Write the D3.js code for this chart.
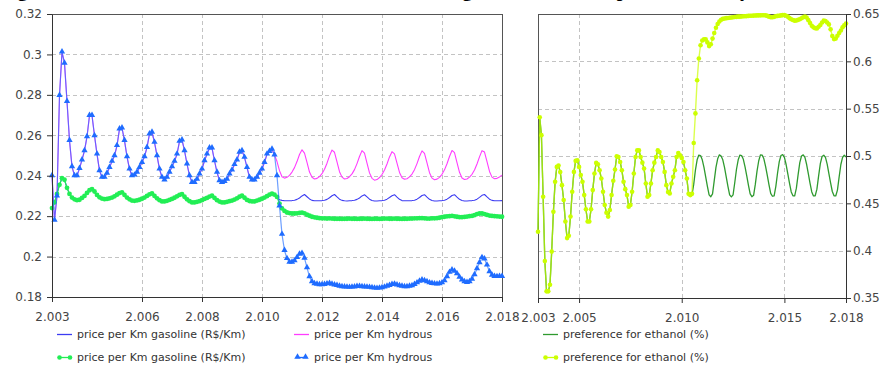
<!DOCTYPE html>
<html><head><meta charset="utf-8">
<script src="https://cdn.jsdelivr.net/npm/d3@7"></script>
<style>
html,body{margin:0;padding:0;background:#fff;}
svg{display:block;}
</style></head><body>
<svg id="chart" width="888" height="367"></svg>
<script>
// ---------- data ----------
const startYear = 2003;
const stepsPerYear = 12;   // monthly values, 2003.0 .. 2018.0
const titleText = "Figure 5 – Results of the simulated model: ethanol and gasoline and their price offered by the market";

const leftXTicks  = [2003, 2006, 2008, 2010, 2012, 2014, 2016, 2018];
const leftXLabels = ["2.003", "2.006", "2.008", "2.010", "2.012", "2.014", "2.016", "2.018"];
const leftYTicks  = [0.18, 0.20, 0.22, 0.24, 0.26, 0.28, 0.30, 0.32];
const leftYLabels = ["0.18", "0.2", "0.22", "0.24", "0.26", "0.28", "0.3", "0.32"];
const rightXTicks  = [2003, 2005, 2010, 2015, 2018];
const rightXLabels = ["2.003", "2.005", "2.010", "2.015", "2.018"];
const rightYTicks  = [0.35, 0.40, 0.45, 0.50, 0.55, 0.60, 0.65];
const rightYLabels = ["0.35", "0.4", "0.45", "0.5", "0.55", "0.6", "0.65"];

// price per Km hydrous (triangles), monthly 2003..2018
const hydrousData = [
0.2400,0.2180,0.2300,0.2797,0.3012,0.2957,0.2767,0.2574,0.2445,0.2400,0.2400,0.2436,
0.2478,0.2524,0.2593,0.2698,0.2698,0.2598,0.2507,0.2425,0.2392,0.2392,0.2412,0.2441,
0.2471,0.2499,0.2549,0.2631,0.2636,0.2574,0.2494,0.2433,0.2400,0.2403,0.2417,0.2441,
0.2466,0.2494,0.2540,0.2607,0.2615,0.2565,0.2499,0.2433,0.2392,0.2379,0.2392,0.2417,
0.2445,0.2471,0.2507,0.2570,0.2577,0.2524,0.2458,0.2400,0.2367,0.2367,0.2383,0.2408,
0.2433,0.2474,0.2507,0.2537,0.2537,0.2474,0.2417,0.2375,0.2367,0.2372,0.2383,0.2408,
0.2428,0.2455,0.2478,0.2516,0.2524,0.2491,0.2441,0.2392,0.2379,0.2379,0.2392,0.2412,
0.2433,0.2466,0.2507,0.2520,0.2531,0.2503,0.2400,0.2250,0.2110,0.2030,0.1990,0.1972,
0.1972,0.1979,0.1995,0.2012,0.2016,0.1992,0.1945,0.1900,0.1876,0.1866,0.1863,0.1861,
0.1861,0.1862,0.1865,0.1867,0.1863,0.1860,0.1857,0.1853,0.1851,0.1850,0.1849,0.1848,
0.1849,0.1850,0.1852,0.1852,0.1851,0.1850,0.1849,0.1848,0.1846,0.1844,0.1843,0.1844,
0.1846,0.1849,0.1853,0.1857,0.1862,0.1864,0.1860,0.1856,0.1853,0.1851,0.1851,0.1853,
0.1856,0.1862,0.1870,0.1878,0.1884,0.1881,0.1876,0.1870,0.1867,0.1865,0.1864,0.1866,
0.1870,0.1880,0.1900,0.1922,0.1934,0.1928,0.1915,0.1898,0.1884,0.1876,0.1872,0.1876,
0.1888,0.1910,0.1940,0.1970,0.1995,0.1988,0.1958,0.1925,0.1908,0.1902,0.1901,0.1902,
0.1902];

// price per Km gasoline (dots), monthly 2003..2018
const gasolineData = [
0.2240,0.2268,0.2310,0.2355,0.2388,0.2380,0.2340,0.2310,0.2292,0.2283,0.2279,0.2281,
0.2290,0.2300,0.2315,0.2328,0.2334,0.2322,0.2305,0.2293,0.2287,0.2284,0.2285,0.2288,
0.2292,0.2298,0.2306,0.2314,0.2318,0.2305,0.2292,0.2283,0.2277,0.2276,0.2278,0.2281,
0.2286,0.2292,0.2300,0.2308,0.2312,0.2300,0.2288,0.2279,0.2273,0.2273,0.2276,0.2280,
0.2285,0.2291,0.2298,0.2305,0.2309,0.2296,0.2283,0.2274,0.2268,0.2268,0.2271,0.2274,
0.2279,0.2285,0.2290,0.2297,0.2301,0.2290,0.2279,0.2272,0.2268,0.2268,0.2271,0.2274,
0.2277,0.2282,0.2288,0.2296,0.2301,0.2291,0.2280,0.2275,0.2273,0.2273,0.2277,0.2281,
0.2286,0.2292,0.2299,0.2306,0.2311,0.2306,0.2295,0.2262,0.2238,0.2226,0.2218,0.2215,
0.2213,0.2213,0.2214,0.2216,0.2217,0.2214,0.2207,0.2202,0.2197,0.2194,0.2192,0.2190,
0.2189,0.2189,0.2188,0.2189,0.2188,0.2187,0.2187,0.2187,0.2186,0.2187,0.2187,0.2188,
0.2187,0.2187,0.2186,0.2187,0.2187,0.2188,0.2187,0.2186,0.2186,0.2187,0.2187,0.2186,
0.2187,0.2188,0.2188,0.2187,0.2187,0.2188,0.2187,0.2187,0.2186,0.2187,0.2187,0.2188,
0.2188,0.2189,0.2189,0.2190,0.2190,0.2189,0.2188,0.2188,0.2189,0.2189,0.2190,0.2192,
0.2195,0.2197,0.2199,0.2200,0.2201,0.2199,0.2197,0.2195,0.2195,0.2196,0.2198,0.2200,
0.2201,0.2205,0.2210,0.2213,0.2213,0.2210,0.2206,0.2203,0.2201,0.2200,0.2199,0.2198,
0.2197];

// simulated lines: identical to the data above until the split month, then these values
const leftSplitIndex = 90; // mid 2010
const gasolineSimTail = [
0.2290,0.2281,0.2278,0.2276,0.2276,0.2276,
0.2277,0.2279,0.2283,0.2290,0.2300,0.2307,0.2296,0.2285,0.2278,0.2276,0.2276,0.2276,
0.2277,0.2279,0.2283,0.2291,0.2301,0.2307,0.2295,0.2284,0.2278,0.2276,0.2275,0.2276,
0.2277,0.2279,0.2283,0.2290,0.2300,0.2306,0.2295,0.2284,0.2277,0.2275,0.2275,0.2276,
0.2277,0.2279,0.2284,0.2292,0.2301,0.2306,0.2294,0.2283,0.2277,0.2276,0.2276,0.2276,
0.2277,0.2279,0.2284,0.2292,0.2302,0.2306,0.2294,0.2283,0.2277,0.2275,0.2275,0.2276,
0.2277,0.2279,0.2284,0.2292,0.2302,0.2306,0.2294,0.2283,0.2277,0.2275,0.2275,0.2276,
0.2277,0.2279,0.2284,0.2293,0.2303,0.2307,0.2295,0.2284,0.2278,0.2276,0.2276,0.2276,
0.2277];
const hydrousSimTail = [
0.2470,0.2425,0.2395,0.2388,0.2392,0.2402,
0.2418,0.2440,0.2470,0.2505,0.2528,0.2512,0.2466,0.2418,0.2392,0.2384,0.2387,0.2396,
0.2410,0.2432,0.2462,0.2498,0.2527,0.2516,0.2468,0.2420,0.2393,0.2384,0.2386,0.2395,
0.2409,0.2430,0.2460,0.2495,0.2524,0.2512,0.2462,0.2414,0.2387,0.2378,0.2381,0.2391,
0.2406,0.2428,0.2458,0.2493,0.2519,0.2508,0.2462,0.2416,0.2390,0.2383,0.2385,0.2394,
0.2408,0.2430,0.2460,0.2495,0.2523,0.2511,0.2463,0.2415,0.2388,0.2380,0.2383,0.2392,
0.2407,0.2429,0.2459,0.2495,0.2525,0.2514,0.2465,0.2417,0.2389,0.2381,0.2384,0.2393,
0.2407,0.2428,0.2458,0.2493,0.2524,0.2517,0.2470,0.2421,0.2393,0.2385,0.2387,0.2394,
0.2403];

// preference for ethanol (dots), monthly 2003..2018
const preferenceData = [
0.4200,0.5410,0.5220,0.4570,0.3890,0.3570,0.3570,0.3640,0.3990,0.4410,0.4727,0.4885,
0.4900,0.4830,0.4692,0.4535,0.4308,0.4133,0.4157,0.4360,0.4622,0.4832,0.4948,0.4955,
0.4885,0.4800,0.4727,0.4587,0.4437,0.4308,0.4308,0.4437,0.4640,0.4815,0.4927,0.4913,
0.4850,0.4762,0.4622,0.4483,0.4400,0.4360,0.4430,0.4587,0.4738,0.4857,0.4997,0.4990,
0.4937,0.4850,0.4727,0.4650,0.4587,0.4465,0.4483,0.4622,0.4815,0.4990,0.5059,0.5059,
0.4990,0.4930,0.4867,0.4710,0.4570,0.4587,0.4710,0.4850,0.4930,0.4990,0.5059,0.5042,
0.4990,0.4937,0.4832,0.4692,0.4620,0.4605,0.4710,0.4780,0.4850,0.4990,0.5031,0.5007,
0.4980,0.4937,0.4850,0.4762,0.4600,0.4587,0.4600,0.5138,0.5450,0.5800,0.6030,0.6170,
0.6220,0.6232,0.6232,0.6200,0.6161,0.6180,0.6240,0.6300,0.6355,0.6395,0.6420,0.6440,
0.6448,0.6452,0.6456,0.6458,0.6460,0.6463,0.6466,0.6468,0.6470,0.6472,0.6472,0.6474,
0.6476,0.6477,0.6478,0.6480,0.6481,0.6482,0.6483,0.6484,0.6485,0.6486,0.6486,0.6487,
0.6487,0.6486,0.6480,0.6472,0.6466,0.6465,0.6470,0.6476,0.6480,0.6482,0.6485,0.6488,
0.6489,0.6482,0.6472,0.6456,0.6444,0.6436,0.6430,0.6432,0.6438,0.6444,0.6455,0.6466,
0.6472,0.6462,0.6435,0.6405,0.6375,0.6359,0.6350,0.6348,0.6365,0.6384,0.6410,0.6430,
0.6425,0.6410,0.6390,0.6338,0.6267,0.6235,0.6240,0.6270,0.6300,0.6325,0.6359,0.6380,
0.6400];
const rightSplitIndex = 90;
const preferenceSimTail = [
0.4590,0.4700,0.4850,0.4960,0.5010,0.5005,
0.4960,0.4880,0.4780,0.4680,0.4590,0.4570,0.4600,0.4740,0.4880,0.4970,0.5012,0.5000,
0.4960,0.4880,0.4780,0.4680,0.4590,0.4568,0.4590,0.4720,0.4860,0.4960,0.5010,0.5005,
0.4965,0.4885,0.4790,0.4690,0.4600,0.4570,0.4585,0.4700,0.4840,0.4950,0.5012,0.5010,
0.4970,0.4890,0.4795,0.4695,0.4605,0.4575,0.4580,0.4680,0.4820,0.4940,0.5005,0.5015,
0.4985,0.4910,0.4810,0.4710,0.4620,0.4580,0.4578,0.4660,0.4800,0.4930,0.5000,0.5012,
0.4985,0.4910,0.4810,0.4710,0.4620,0.4578,0.4580,0.4650,0.4790,0.4920,0.4995,0.5008,
0.4985,0.4915,0.4815,0.4715,0.4625,0.4580,0.4578,0.4640,0.4780,0.4910,0.4985,0.5008,
0.4990];

const leftLegend = [
  {label: "price per Km gasoline (R$/Km)", kind: "line", key: "gasSim"},
  {label: "price per Km hydrous", kind: "line", key: "hydSim"},
  {label: "price per Km gasoline (R$/Km)", kind: "dot", key: "gasData"},
  {label: "price per Km hydrous", kind: "tri", key: "hydData"}
];
const rightLegend = [
  {label: "preference for ethanol (%)", kind: "line", key: "prefSim"},
  {label: "preference for ethanol (%)", kind: "dot", key: "prefData"}
];

// ---------- styles ----------
const colors = {
  gasSim: "#3c3cf2", hydSim: "#ff3cff", gasData: "#22ee55", hydData: "#1f6cff",
  prefSim: "#2f9a2f", prefData: "#ccff00"
};
const FONT = "'DejaVu Sans', Verdana, sans-serif";

// ---------- helpers ----------
const toPoints = arr => arr.map((v, i) => ({t: startYear + i / stepsPerYear, v}));
const withTail = (data, split, tail) => data.slice(0, split).concat(tail);

const svg = d3.select("#chart");

// title (mostly cropped by the top edge, as in the reference)
svg.append("text").attr("x", 0).attr("y", -3.5)
  .attr("font-family", "'Liberation Serif', 'Times New Roman', serif")
  .attr("font-weight", "bold").attr("font-size", "19.7px").attr("fill", "#000")
  .text(titleText);

function panel(P, xTicks, xLabels, yTicks, yLabels, yDomain, yAxisSide) {
  const x = d3.scaleLinear().domain([startYear, 2018]).range([P.x0, P.x1]);
  const y = d3.scaleLinear().domain(yDomain).range([P.y0, P.y1]);
  const g = svg.append("g");
  const grid = g.append("g").attr("stroke", "#c3c3c3").attr("stroke-dasharray", "4,3")
    .attr("shape-rendering", "crispEdges");
  grid.selectAll("line.v").data(xTicks.slice(1, -1)).join("line")
    .attr("x1", d => Math.round(x(d)) + 0.5).attr("x2", d => Math.round(x(d)) + 0.5)
    .attr("y1", P.y1).attr("y2", P.y0);
  grid.selectAll("line.h").data(yTicks.slice(1, -1)).join("line")
    .attr("y1", d => Math.round(y(d)) + 0.5).attr("y2", d => Math.round(y(d)) + 0.5)
    .attr("x1", P.x0).attr("x2", P.x1);
  // frame
  g.append("rect").attr("x", P.x0 + 0.5).attr("y", P.y1 + 0.5)
    .attr("width", P.x1 - P.x0).attr("height", P.y0 - P.y1)
    .attr("fill", "none").attr("stroke", "#555").attr("shape-rendering", "crispEdges");
  const dataLayer = g.append("g");
  // axes
  const xa = d3.axisBottom(x).tickValues(xTicks).tickFormat((d, i) => xLabels[i])
    .tickSize(5).tickSizeOuter(0).tickPadding(10);
  const ya = (yAxisSide === "left" ? d3.axisLeft(y) : d3.axisRight(y))
    .tickValues(yTicks).tickFormat((d, i) => yLabels[i])
    .tickSize(5).tickSizeOuter(0).tickPadding(yAxisSide === "left" ? 5 : 2);
  const gx = g.append("g").attr("transform", `translate(0,${P.y0})`).call(xa);
  const gy = g.append("g").attr("transform", `translate(${yAxisSide === "left" ? P.x0 : P.x1},0)`).call(ya);
  [gx, gy].forEach(a => {
    a.select(".domain").attr("stroke", "#333");
    a.selectAll(".tick line").attr("stroke", "#333");
    a.selectAll(".tick text").attr("font-family", FONT).attr("font-size", "12px").attr("fill", "#444");
  });
  return {x, y, layer: dataLayer};
}

function drawLine(p, pts, color, width, opacity) {
  const line = d3.line().x(d => p.x(d.t)).y(d => p.y(d.v));
  p.layer.append("path").datum(pts).attr("d", line)
    .attr("fill", "none").attr("stroke", color).attr("stroke-width", width)
    .attr("stroke-opacity", opacity).attr("stroke-linejoin", "round");
}
function drawDots(p, pts, color, r) {
  p.layer.append("g").selectAll("circle").data(pts).join("circle")
    .attr("cx", d => p.x(d.t)).attr("cy", d => p.y(d.v)).attr("r", r).attr("fill", color);
}
function drawTriangles(p, pts, color) {
  const sym = d3.symbol(d3.symbolTriangle).size(17);
  p.layer.append("g").selectAll("path").data(pts).join("path")
    .attr("d", sym).attr("transform", d => `translate(${p.x(d.t)},${p.y(d.v) - 0.3})`)
    .attr("fill", color);
}

// ---------- left panel ----------
const Lp = panel({x0: 52, x1: 502, y0: 297, y1: 14}, leftXTicks, leftXLabels, leftYTicks, leftYLabels, [0.18, 0.32], "left");
drawLine(Lp, toPoints(withTail(hydrousData, leftSplitIndex, hydrousSimTail)), colors.hydSim, 1.1, 1);
drawLine(Lp, toPoints(withTail(gasolineData, leftSplitIndex, gasolineSimTail)), colors.gasSim, 1.1, 1);
drawLine(Lp, toPoints(gasolineData), colors.gasData, 1.2, 1);
drawDots(Lp, toPoints(gasolineData), colors.gasData, 2.4);
drawLine(Lp, toPoints(hydrousData), colors.hydData, 1.2, 0.65);
drawTriangles(Lp, toPoints(hydrousData), colors.hydData);

// ---------- right panel ----------
const Rp = panel({x0: 538, x1: 846, y0: 298, y1: 14}, rightXTicks, rightXLabels, rightYTicks, rightYLabels, [0.35, 0.65], "right");
drawLine(Rp, toPoints(withTail(preferenceData, rightSplitIndex, preferenceSimTail)), colors.prefSim, 1.3, 1);
drawLine(Rp, toPoints(preferenceData), colors.prefData, 1.4, 0.7);
drawDots(Rp, toPoints(preferenceData), colors.prefData, 2.3);

// ---------- legends ----------
function legend(items, cols, rows) {
  items.forEach((it, k) => {
    const x = cols[k % cols.length], y = rows[Math.floor(k / cols.length)];
    const g = svg.append("g").attr("transform", `translate(${x},${y})`);
    const c = colors[it.key];
    if (it.kind === "line") {
      g.append("line").attr("x1", 0).attr("x2", 15).attr("y1", 0.5).attr("y2", 0.5)
        .attr("stroke", c).attr("stroke-width", 1.3);
    } else if (it.kind === "dot") {
      g.append("line").attr("x1", 2).attr("x2", 13).attr("y1", 0.5).attr("y2", 0.5)
        .attr("stroke", c).attr("stroke-width", 1.3);
      [2.5, 13].forEach(cx => g.append("circle").attr("cx", cx).attr("cy", 0.5).attr("r", 2.3).attr("fill", c));
    } else {
      g.append("line").attr("x1", 2).attr("x2", 13).attr("y1", 0.5).attr("y2", 0.5)
        .attr("stroke", c).attr("stroke-width", 1.3);
      [3.5, 11.5].forEach(cx => g.append("path").attr("d", d3.symbol(d3.symbolTriangle).size(18))
        .attr("transform", `translate(${cx},0)`).attr("fill", c));
    }
    g.append("text").attr("x", 20).attr("y", 4).attr("font-family", FONT)
      .attr("font-size", "11px").attr("fill", "#333").text(it.label);
  });
}
legend(leftLegend, [57, 294], [334, 357]);
legend(rightLegend, [543], [334, 357]);
</script>
</body></html>
